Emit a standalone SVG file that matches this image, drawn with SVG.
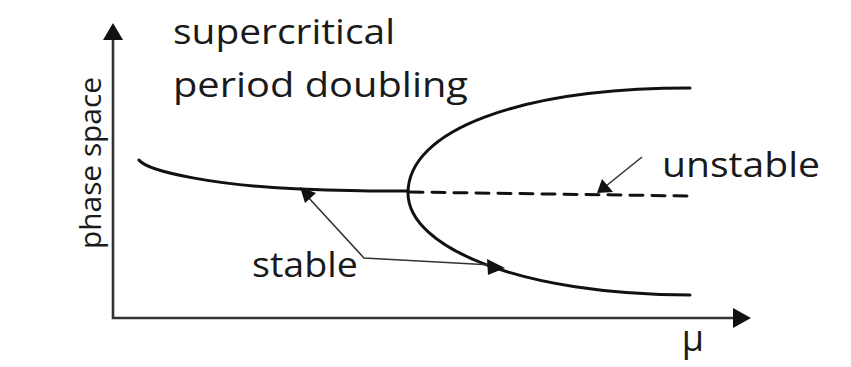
<svg xmlns="http://www.w3.org/2000/svg" width="851" height="367" viewBox="0 0 851 367">
<style>
.t{font-family:"Open Sans","Noto Sans","Liberation Sans",sans-serif;fill:#1a1a1a}
.axis{stroke:#333;stroke-width:2.6;fill:none}
.curve{stroke:#111;stroke-width:3;fill:none;stroke-linecap:round}
.lead{stroke:#333;stroke-width:1.6;fill:none}
.head{fill:#111}
</style>
<rect width="851" height="367" fill="#ffffff"/>
<g id="axes">
<path class="axis" d="M113,38 L113,318 L735,318"/>
<polygon class="head" points="113,23 103,40 123,40"/>
<polygon class="head" points="751,318 733,308 733,328"/>
</g>
<g id="title">
<text class="t" x="173" y="44" font-size="35" textLength="222" lengthAdjust="spacingAndGlyphs">supercritical</text>
<text class="t" x="173" y="97" font-size="35" textLength="295" lengthAdjust="spacingAndGlyphs">period doubling</text>
</g>
<g id="y-label">
<text class="t" transform="translate(101,163) rotate(-90)" text-anchor="middle" font-size="29" textLength="172" lengthAdjust="spacingAndGlyphs">phase space</text>
</g>
<g id="x-label">
<text class="t" x="693" y="351" text-anchor="middle" font-size="36">μ</text>
</g>
<g id="branches">
<path class="curve" d="M139,160 C148,172 220,186 300,189 S380,191 408,191"/>
<path class="curve" d="M690,88 C520,88 408,130 408,193 C408,248 522,295 690,295"/>
<path class="curve" d="M410,192 L690,196" stroke-dasharray="13 9" stroke-linecap="butt"/>
</g>
<g id="connectors">
<path class="lead" d="M307,196 L364,258 L492,265"/>
<polygon class="head" points="300,187 316,193 305,203"/>
<polygon class="head" points="505,268 487,259 488,275"/>
<path class="lead" d="M642,157 L606,186"/>
<polygon class="head" points="597,193 602,179 613,192"/>
</g>
<g id="labels">
<text class="t" x="252" y="277" font-size="35" textLength="106" lengthAdjust="spacingAndGlyphs">stable</text>
<text class="t" x="662" y="177" font-size="35" textLength="158" lengthAdjust="spacingAndGlyphs">unstable</text>
</g>
</svg>
